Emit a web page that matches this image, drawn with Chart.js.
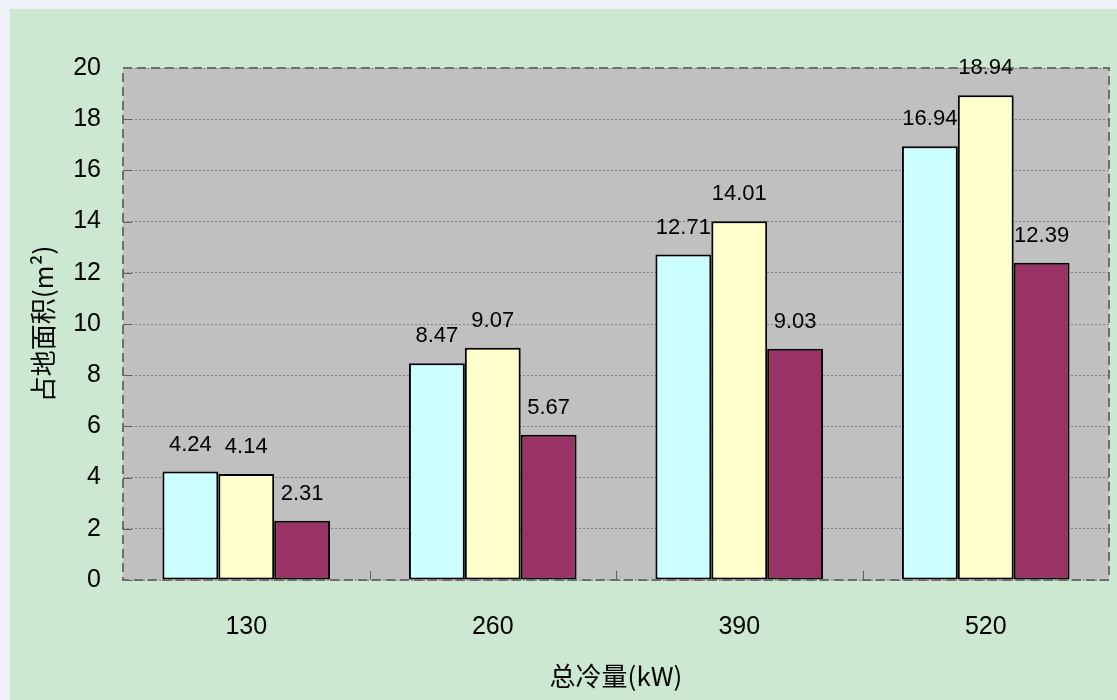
<!DOCTYPE html>
<html>
<head>
<meta charset="utf-8">
<script src="https://cdn.jsdelivr.net/npm/chart.js@4.4.0/dist/chart.umd.min.js"></script>
<style>
  html, body { margin: 0; padding: 0; background: #edf1f9; }
  #panel { position: absolute; left: 10px; top: 9px; width: 1107px; height: 691px; background: #cde8d0; }
</style>
</head>
<body>
<div id="panel"><canvas id="areaChart" width="1107" height="691"></canvas></div>
<script>
// Dữ liệu biểu đồ
const categories = ["130", "260", "390", "520"];
const seriesA = [4.24, 8.47, 12.71, 16.94];
const seriesB = [4.14, 9.07, 14.01, 18.94];
const seriesC = [2.31, 5.67, 9.03, 12.39];
const yTicks = [0, 2, 4, 6, 8, 10, 12, 14, 16, 18, 20];

const FONT = "'Liberation Sans', Arial, sans-serif";
const CJK = "'Noto Sans CJK SC', 'Liberation Sans', sans-serif";

// Nền xám và viền nét đứt của vùng vẽ
const plotBackground = {
    id: "plotBackground",
    beforeDraw(chart) {
        const { ctx, chartArea: a } = chart;
        ctx.save();
        ctx.fillStyle = "#c0c0c0";
        ctx.fillRect(a.left, a.top, a.right - a.left, a.bottom - a.top);
        ctx.restore();
    },
    afterDatasetsDraw(chart) {
        const { ctx, chartArea: a, scales } = chart;
        ctx.save();
        // vạch chia nhỏ giữa các nhóm
        ctx.strokeStyle = "#606060";
        ctx.lineWidth = 1;
        const x = scales.x;
        for (let i = 0; i < categories.length - 1; i++) {
            const px = Math.round((x.getPixelForTick(i) + x.getPixelForTick(i + 1)) / 2) + 0.5;
            ctx.beginPath();
            ctx.moveTo(px, a.bottom);
            ctx.lineTo(px, a.bottom - 9);
            ctx.stroke();
        }
        // vạch chia trục y
        const y = scales.y;
        yTicks.forEach(v => {
            const py = Math.round(y.getPixelForValue(v)) + 0.5;
            ctx.beginPath();
            ctx.moveTo(a.left, py);
            ctx.lineTo(a.left + 9, py);
            ctx.stroke();
        });
        ctx.strokeStyle = "#6e6e6e";
        ctx.lineWidth = 2;
        ctx.setLineDash([9, 5]);
        ctx.strokeRect(a.left, a.top, a.right - a.left, a.bottom - a.top);
        ctx.restore();
    }
};

// Nhãn giá trị trên mỗi cột
const valueLabels = {
    id: "valueLabels",
    afterDatasetsDraw(chart) {
        const { ctx } = chart;
        ctx.save();
        ctx.font = "22px " + FONT;
        ctx.fillStyle = "#000";
        ctx.textAlign = "center";
        ctx.textBaseline = "middle";
        chart.data.datasets.forEach((ds, di) => {
            chart.getDatasetMeta(di).data.forEach((bar, i) => {
                ctx.fillText(ds.data[i].toFixed(2), bar.x, bar.y - 27);
            });
        });
        ctx.restore();
    }
};

new Chart(document.getElementById("areaChart"), {
    type: "bar",
    data: {
        labels: categories,
        datasets: [
            { label: "A", data: seriesA, backgroundColor: "#ccffff" },
            { label: "B", data: seriesB, backgroundColor: "#ffffcc" },
            { label: "C", data: seriesC, backgroundColor: "#993366" }
        ].map(d => Object.assign(d, {
            borderColor: "#000",
            borderWidth: 2,
            borderSkipped: false,
            categoryPercentage: 0.68,
            barPercentage: 1
        }))
    },
    options: {
        responsive: false,
        animation: false,
        layout: { padding: { left: 18, right: 8, top: 59, bottom: 0 } },
        plugins: {
            legend: { display: false },
            tooltip: { enabled: false }
        },
        scales: {
            x: {
                grid: { display: false },
                border: { display: false },
                ticks: { font: { family: FONT, size: 25 }, color: "#000", padding: 24 },
                title: {
                    display: true,
                    text: "总冷量(kW)",
                    font: { family: CJK, size: 26 },
                    color: "#000",
                    padding: { top: 4, bottom: 8 }
                },
                afterFit(scale) { scale.height = 120; }
            },
            y: {
                min: 0,
                max: 20,
                afterBuildTicks(scale) { scale.ticks = yTicks.map(v => ({ value: v })); },
                grid: {
                    color: "#808080",
                    lineWidth: 1,
                    drawTicks: false
                },
                border: { display: false, dash: [2, 2] },
                ticks: { font: { family: FONT, size: 25 }, color: "#000", padding: 22 },
                title: {
                    display: true,
                    text: "占地面积(m²)",
                    font: { family: CJK, size: 26 },
                    color: "#000",
                    padding: { top: 0, bottom: 4 }
                },
                afterFit(scale) { scale.width = 95; }
            }
        }
    },
    plugins: [plotBackground, valueLabels]
});
</script>
</body>
</html>
